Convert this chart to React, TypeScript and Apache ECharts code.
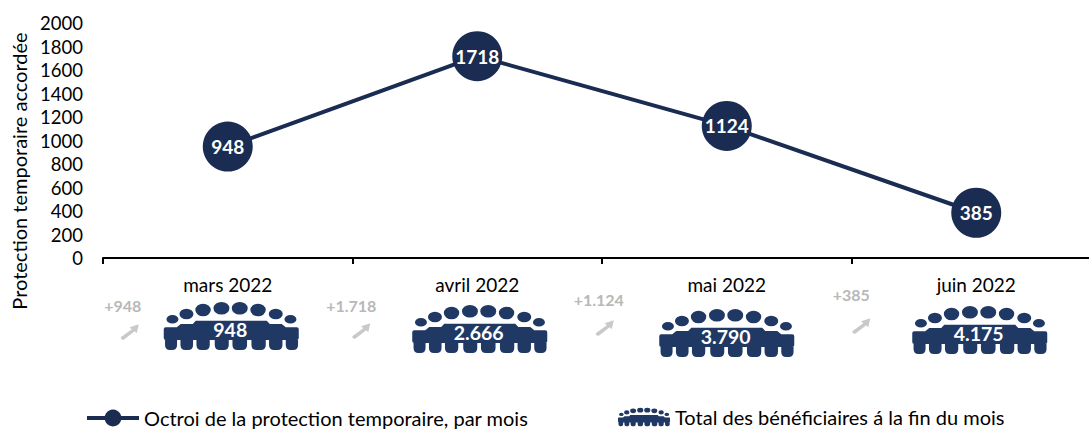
import React, { useEffect, useRef } from "react";
import * as echarts from "echarts";

const months = ["mars 2022", "avril 2022", "mai 2022", "juin 2022"];
const granted = [948, 1718, 1124, 385];
const totalLabels = ["948", "2.666", "3.790", "4.175"];
const deltaLabels = ["+948", "+1.718", "+1.124", "+385"];
const yTitle = "Protection temporaire accordée";
const lineName = "Octroi de la protection temporaire, par mois";
const crowdName = "Total des bénéficiaires á la fin du mois";

const crowdDx = [3.5, 2.5, 0, 3.5];
const crowdDy = [44, 47, 51, 48];
const deltaDx = [-105, -126, -128, -125];
const deltaDy = [47, 47, 41, 36];
const arrowDx = [-98, -116, -122, -115];
const arrowDy = [74, 73, 70, 68];

const FONT = "Lato";
const NAVY = "#1a2c52";
const ICON = "#1f3864";
const GREY = "#b8b8b8";

const ell = (cx: number, cy: number, rx: number, ry: number) =>
  `M${cx - rx} ${cy}A${rx} ${ry} 0 1 1 ${cx + rx} ${cy}A${rx} ${ry} 0 1 1 ${cx - rx} ${cy}Z`;

const heads: number[][] = [
  [8.7, 17.3, 6, 4.3],
  [22.7, 12, 7, 5.3],
  [39.3, 8, 7.7, 6.3],
  [57.7, 6.3, 8, 6.3],
  [76, 6.3, 8, 6.3],
  [94.3, 8, 7.7, 6.3],
  [112, 12, 7, 5.3],
  [126.7, 17.3, 6, 4.3],
];
const legsX = [1.3, 16.7, 32.7, 51, 68.7, 87.7, 105.3, 122];
const legW = [12, 12.6, 13.3, 14, 14.6, 14.3, 13.4, 12.3];
const leg = (x: number, w: number) =>
  `M${x} 36L${x + w} 36L${x + w} 43Q${x + w} 48 ${x + w - 5} 48L${x + 5} 48Q${x} 48 ${x} 43Z`;
const body =
  "M2 25.3L13 25.3L17 22L29 22L32 18.7L103 18.7L106 22L118 22L122 25.3L133 25.3Q135 25.3 135 27.3L135 36Q135 38 133 38L2 38Q0 38 0 36L0 27.3Q0 25.3 2 25.3Z";
const crowdPath =
  heads.map((h) => ell(h[0], h[1], h[2], h[3])).join("") +
  body +
  legsX.map((x, i) => leg(x, legW[i])).join("");

const arrowPath = "M0 13L11 5L9 3L18 0L16 9L14 7L3 15.5Q0 16 0 13Z";

function renderCrowd(params: any, api: any) {
  const i = params.dataIndex;
  const p = api.coord([i, 0]);
  const cx = p[0] + crowdDx[i];
  const top = p[1] + crowdDy[i];
  return {
    type: "group",
    children: [
      {
        type: "path",
        shape: { pathData: crowdPath, x: cx - 67.5, y: top, width: 135, height: 48 },
        style: { fill: ICON },
      },
      {
        type: "text",
        x: cx - 1,
        y: top + 27,
        style: {
          text: totalLabels[i],
          fill: "#ffffff",
          font: `bold 19.5px ${FONT}`,
          align: "center",
          verticalAlign: "middle",
        },
      },
      {
        type: "text",
        x: p[0] + deltaDx[i],
        y: p[1] + deltaDy[i],
        style: {
          text: deltaLabels[i],
          fill: GREY,
          font: `bold 16px ${FONT}`,
          align: "center",
          verticalAlign: "middle",
        },
      },
      {
        type: "path",
        shape: {
          pathData: arrowPath,
          x: p[0] + arrowDx[i] - 9,
          y: p[1] + arrowDy[i] - 8,
          width: 18,
          height: 16,
        },
        style: { fill: "#c9c9c9" },
      },
    ],
  };
}

export default function App() {
  const ref = useRef<HTMLDivElement>(null);
  useEffect(() => {
    document.body.style.margin = "0";
    const chart = echarts.init(ref.current!, undefined, { renderer: "svg" });
    chart.setOption({
      animation: false,
      textStyle: { fontFamily: FONT },
      grid: { left: 103, top: 23, width: 998, height: 235, outerBoundsMode: "none" },
      graphic: [
        {
          type: "text",
          x: 19,
          y: 171,
          rotation: Math.PI / 2,
          style: {
            text: yTitle,
            fill: "#000",
            font: `20px ${FONT}`,
            align: "center",
            verticalAlign: "middle",
          },
        },
      ],
      legend: [
        {
          left: 85,
          top: 408,
          itemWidth: 52,
          itemHeight: 21,
          padding: 0,
          itemGap: 0,
          data: [{ name: lineName }],
          lineStyle: { width: 4 },
          textStyle: { fontFamily: FONT, fontSize: 20, color: "#000" },
        },
        {
          left: 618,
          top: 407,
          itemWidth: 52,
          itemHeight: 22,
          padding: 0,
          itemGap: 0,
          data: [{ name: crowdName, icon: "path://" + crowdPath, itemStyle: { color: ICON } }],
          textStyle: { fontFamily: FONT, fontSize: 20, color: "#000" },
        },
      ],
      xAxis: {
        type: "category",
        data: months,
        boundaryGap: true,
        axisLine: { lineStyle: { color: "#000", width: 2 } },
        axisTick: { show: true, length: 6, lineStyle: { color: "#000", width: 2 } },
        axisLabel: { color: "#000", fontFamily: FONT, fontSize: 19, margin: 17 },
      },
      yAxis: {
        type: "value",
        min: 0,
        max: 2000,
        interval: 200,
        axisLine: { show: false },
        axisTick: { show: false },
        splitLine: { show: false },
        axisLabel: {
          color: "#000",
          fontFamily: FONT,
          fontSize: 18.5,
          margin: 20,
          formatter: (v: number) => String(v),
        },
      },
      series: [
        {
          type: "line",
          name: lineName,
          data: granted,
          symbol: "circle",
          symbolSize: 50,
          lineStyle: { color: NAVY, width: 4 },
          itemStyle: { color: NAVY },
          label: {
            show: true,
            position: "inside",
            color: "#fff",
            fontFamily: FONT,
            fontWeight: "bold",
            fontSize: 19,
          },
        },
        {
          type: "custom",
          name: crowdName,
          data: months.map((_, i) => [i, 0]),
          encode: { x: 0, y: 1 },
          renderItem: renderCrowd,
          itemStyle: { color: ICON },
          silent: true,
          z: 3,
        },
      ],
    });
    return () => chart.dispose();
  }, []);
  return <div ref={ref} style={{ width: 1089, height: 429 }} />;
}
